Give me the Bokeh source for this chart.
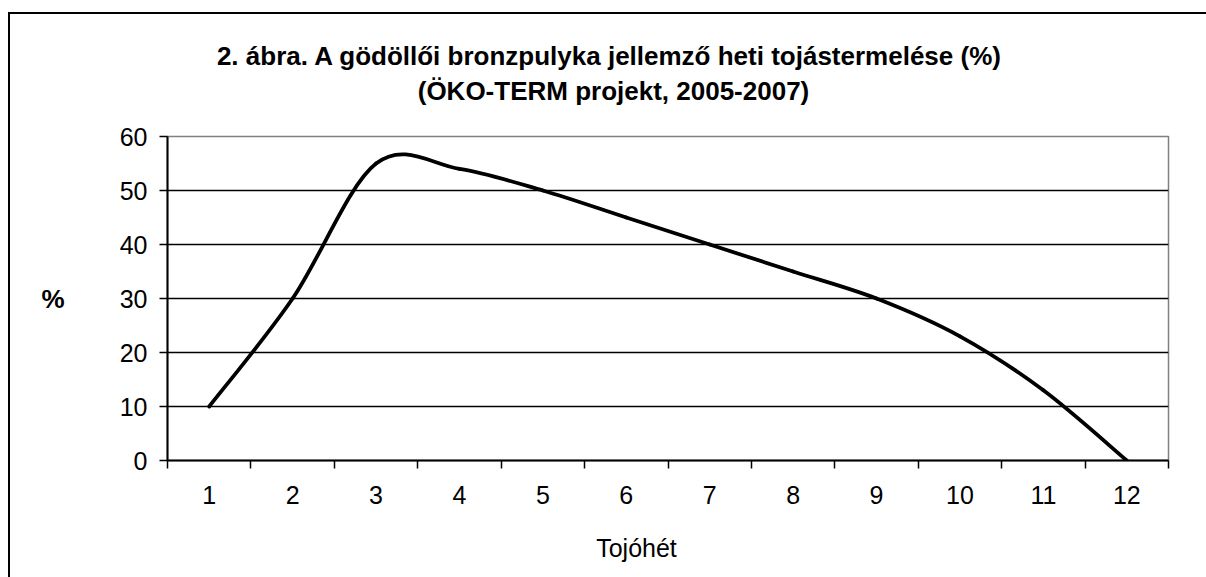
import numpy as np
from bokeh.plotting import figure
from bokeh.layouts import column
from bokeh.models import Range1d, FixedTicker, Label
from bokeh.embed import file_html
from bokeh.resources import INLINE

# ---- data ----
weeks = [1, 2, 3, 4, 5, 6, 7, 8, 9, 10, 11, 12]
production = [10, 30, 55, 54, 50, 45, 40, 35, 30, 23, 13, 0]
y_ticks = [0, 10, 20, 30, 40, 50, 60]
grid_ticks = [10, 20, 30, 40, 50]
week_bounds = [w - 0.5 for w in weeks] + [weeks[-1] + 0.5]
title_line1 = "2. ábra. A  gödöllői bronzpulyka jellemző heti tojástermelése (%)"
title_line2 = "(ÖKO-TERM projekt, 2005-2007)"
x_title = "Tojóhét"
y_title = "%"

FONT = "Liberation Sans"
W = 1196
BL, BR = 157, 38          # left / right borders of the chart frame
H_TOP, H_MAIN, H_BOT = 102, 404, 57


def text_panel(height):
    # frame aligned with the chart frame; x data units == canvas pixels
    f = figure(width=W, height=height, output_backend="svg", toolbar_location=None,
               title=None, x_axis_type=None, y_axis_type=None,
               x_range=Range1d(BL, W - BR), y_range=Range1d(height, 0),
               min_border_left=BL, min_border_right=BR,
               min_border_top=0, min_border_bottom=0)
    f.outline_line_color = None
    f.background_fill_color = "white"
    f.border_fill_color = "white"
    return f


def add_label(f, text, x, y, size, bold):
    f.add_layout(Label(x=x, y=y, text=text, text_align="center",
                       text_baseline="alphabetic", text_font=FONT,
                       text_font_size=size,
                       text_font_style="bold" if bold else "normal",
                       text_color="black"))


# ---- title panel ----
top = text_panel(H_TOP)
add_label(top, title_line1, 603, 41, "26px", True)
add_label(top, title_line2, 603, 76, "26px", True)

# ---- main chart ----
p = figure(width=W, height=H_MAIN, output_backend="svg", toolbar_location=None,
           title=None,
           x_range=Range1d(0.5, 12.5), y_range=Range1d(0, 60),
           min_border_left=BL, min_border_right=BR,
           min_border_top=20, min_border_bottom=60)
p.background_fill_color = "white"
p.border_fill_color = "white"
p.outline_line_color = "#808080"
p.outline_line_width = 1.5

p.xgrid.visible = False
p.ygrid.ticker = FixedTicker(ticks=grid_ticks)
p.ygrid.grid_line_color = "black"
p.ygrid.grid_line_width = 1.5

xa = p.xaxis[0]
xa.ticker = FixedTicker(ticks=weeks, minor_ticks=week_bounds)
xa.major_tick_line_color = None
xa.minor_tick_line_color = "black"
xa.minor_tick_line_width = 1.5
xa.minor_tick_out = 8
xa.minor_tick_in = 0
xa.axis_line_color = "black"
xa.axis_line_width = 2
xa.major_label_text_font = FONT
xa.major_label_text_font_size = "25px"
xa.major_label_text_color = "black"
xa.major_label_standoff = 17

ya = p.yaxis[0]
ya.ticker = FixedTicker(ticks=y_ticks)
ya.major_tick_line_color = "black"
ya.major_tick_line_width = 1.5
ya.major_tick_out = 8
ya.major_tick_in = 0
ya.minor_tick_line_color = None
ya.axis_line_color = "black"
ya.axis_line_width = 2
ya.major_label_text_font = FONT
ya.major_label_text_font_size = "25px"
ya.major_label_text_color = "black"
ya.major_label_standoff = 12
ya.axis_label = y_title
ya.axis_label_orientation = "horizontal"
ya.axis_label_text_font = FONT
ya.axis_label_text_font_size = "26px"
ya.axis_label_text_font_style = "bold"
ya.axis_label_text_color = "black"
ya.axis_label_standoff = 52

# smoothed line (Excel-style Bezier through the data points)
x = np.array(weeks, dtype=float)
y = np.array(production, dtype=float)
xp = np.concatenate([[x[0]], x, [x[-1]]])
yp = np.concatenate([[y[0]], y, [y[-1]]])
n = len(x)
x0 = xp[1:n]; y0 = yp[1:n]
x1 = xp[2:n + 1]; y1 = yp[2:n + 1]
cx0 = x0 + (xp[2:n + 1] - xp[0:n - 1]) / 6.0
cy0 = y0 + (yp[2:n + 1] - yp[0:n - 1]) / 6.0
cx1 = x1 - (xp[3:n + 2] - xp[1:n]) / 6.0
cy1 = y1 - (yp[3:n + 2] - yp[1:n]) / 6.0
p.bezier(x0=x0, y0=y0, x1=x1, y1=y1, cx0=cx0, cy0=cy0, cx1=cx1, cy1=cy1,
         line_color="black", line_width=3.8, line_cap="round")

# ---- bottom panel with x-axis title ----
bot = text_panel(H_BOT)
add_label(bot, x_title, 626, 27, "25px", False)

layout = column(top, p, bot, spacing=0)
layout.styles = {"border-left": "2px solid black", "border-top": "2px solid black",
                 "margin-top": "12px", "margin-left": "8px"}

open("out.html", "w").write(file_html(layout, INLINE))
